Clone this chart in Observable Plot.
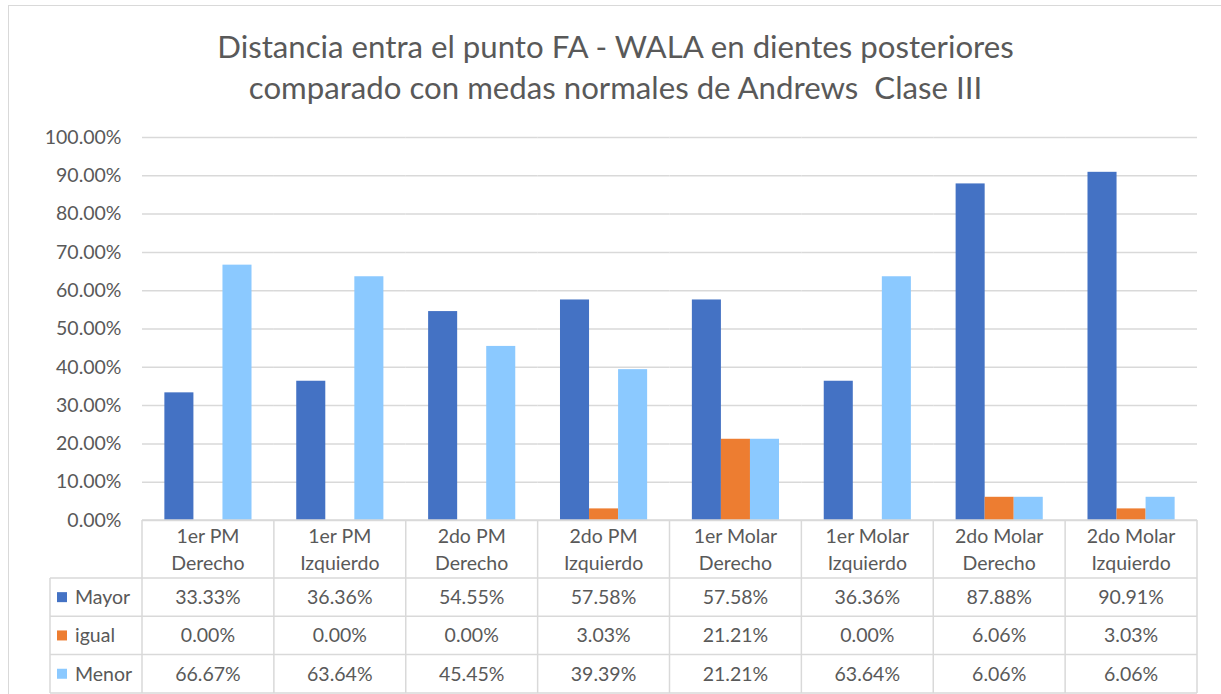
<!DOCTYPE html>
<html>
<head>
<meta charset="utf-8">
<script src="https://cdn.jsdelivr.net/npm/d3@7"></script>
<script src="https://cdn.jsdelivr.net/npm/@observablehq/plot@0.6"></script>
<style>
  html, body { margin: 0; padding: 0; background: #fff; }
  body { width: 1221px; height: 694px; overflow: hidden; position: relative; font-family: Lato, "Open Sans", sans-serif; }
  #frame { position: absolute; left: 8px; top: 5px; width: 1214px; height: 720px; border: 1.5px solid #d9d9d9; box-sizing: border-box; pointer-events: none; }
  #title { height: 125px; box-sizing: border-box; padding-top: 26px; padding-left: 10px; text-align: center; color: #595959; font-size: 31.2px; line-height: 41px; white-space: pre; }
  #chart svg { display: block; }
</style>
</head>
<body>
<div id="frame"></div>
<div id="title">Distancia entra el punto FA - WALA en dientes posteriores
comparado con medas normales de Andrews  Clase III</div>
<div id="chart"></div>
<script>
// ---- data ----
const categories = ["1er PM Derecho", "1er PM Izquierdo", "2do PM Derecho", "2do PM Izquierdo",
                    "1er Molar Derecho", "1er Molar Izquierdo", "2do Molar Derecho", "2do Molar Izquierdo"];
const catLine1 = ["1er PM", "1er PM", "2do PM", "2do PM", "1er Molar", "1er Molar", "2do Molar", "2do Molar"];
const catLine2 = ["Derecho", "Izquierdo", "Derecho", "Izquierdo", "Derecho", "Izquierdo", "Derecho", "Izquierdo"];
const series = ["Mayor", "igual", "Menor"];
const mayor = [0.3333, 0.3636, 0.5455, 0.5758, 0.5758, 0.3636, 0.8788, 0.9091];
const igual = [0.0000, 0.0000, 0.0000, 0.0303, 0.2121, 0.0000, 0.0606, 0.0303];
const menor = [0.6667, 0.6364, 0.4545, 0.3939, 0.2121, 0.6364, 0.0606, 0.0606];
const seriesColors = ["#4472C4", "#ED7D31", "#8BC9FF"];
const yTicks = [0, 0.1, 0.2, 0.3, 0.4, 0.5, 0.6, 0.7, 0.8, 0.9, 1.0];

const seriesValues = [mayor, igual, menor];
const rows = [];
categories.forEach((c, i) => series.forEach((s, j) => rows.push({cat: c, series: s, value: seriesValues[j][i]})));

const fmt = d3.format(".2%");
const textColor = "#595959";
const lineColor = "#d9d9d9";
const fontFam = "Lato, 'Open Sans', sans-serif";
const W = 1221, H = 569;
const mL = 142, mR = 24, mT = 12, mB = 174;

const plot = Plot.plot({
  width: W, height: H,
  marginLeft: mL, marginRight: mR, marginTop: mT, marginBottom: mB,
  style: {fontFamily: fontFam, fontSize: "19px", color: textColor, background: "transparent"},
  fx: {domain: categories, padding: 0, round: false, axis: null, label: null},
  x: {domain: series, paddingInner: 0, paddingOuter: 0.77, round: false, axis: null, label: null},
  y: {domain: [0, 1], label: null},
  color: {domain: series, range: seriesColors},
  marks: [
    Plot.gridY(yTicks, {stroke: lineColor, strokeOpacity: 1, strokeWidth: 1.5}),
    Plot.axisY(yTicks, {tickSize: 0, tickPadding: 21, tickFormat: fmt, label: null, fontSize: 19.5, fill: textColor}),
    Plot.barY(rows, {fx: "cat", x: "series", y: "value", fill: "series"})
  ]
});
document.getElementById("chart").appendChild(plot);

// ---- data table drawn with the plot's own fx / y scales ----
const fxS = plot.scale("fx");
const yS = plot.scale("y");
const step = (W - mL - mR) / categories.length;
const colLeft = c => (fxS && fxS.apply) ? fxS.apply(c) : mL + categories.indexOf(c) * step;
const colW = (fxS && fxS.bandwidth) ? fxS.bandwidth : step;
const y0 = (yS && yS.apply) ? yS.apply(0) : H - mB;
const tableLeft = 50;
const tableRight = colLeft(categories[categories.length - 1]) + colW;
const headerBottom = y0 + 58, rowH = 38.3;
const rowTops = [headerBottom, headerBottom + rowH, headerBottom + 2 * rowH];
const tableBottom = headerBottom + 3 * rowH;
const fs = 19.5;

const svg = d3.select(plot);
const g = svg.append("g").attr("font-family", fontFam).attr("fill", textColor);
const lines = g.append("g").attr("stroke", lineColor).attr("stroke-width", 1.5);
// horizontal lines
lines.append("line").attr("x1", colLeft(categories[0])).attr("x2", tableRight).attr("y1", y0).attr("y2", y0);
[headerBottom, ...rowTops.slice(1), tableBottom].forEach(yy =>
  lines.append("line").attr("x1", tableLeft).attr("x2", tableRight).attr("y1", yy).attr("y2", yy));
// vertical lines
lines.append("line").attr("x1", tableLeft).attr("x2", tableLeft).attr("y1", headerBottom).attr("y2", tableBottom);
categories.forEach(c => {
  const x = colLeft(c);
  lines.append("line").attr("x1", x).attr("x2", x).attr("y1", y0).attr("y2", tableBottom);
});
lines.append("line").attr("x1", tableRight).attr("x2", tableRight).attr("y1", y0).attr("y2", tableBottom);

// header text
categories.forEach((c, i) => {
  const cx = colLeft(c) + colW / 2;
  g.append("text").attr("x", cx).attr("y", y0 + 16).attr("dy", "0.35em").attr("text-anchor", "middle").attr("font-size", fs).text(catLine1[i]);
  g.append("text").attr("x", cx).attr("y", y0 + 43).attr("dy", "0.35em").attr("text-anchor", "middle").attr("font-size", fs).text(catLine2[i]);
});
// rows
series.forEach((s, j) => {
  const cy = rowTops[j] + rowH / 2;
  g.append("rect").attr("x", 57).attr("y", cy - 5).attr("width", 10).attr("height", 10).attr("fill", seriesColors[j]);
  g.append("text").attr("x", 75).attr("y", cy).attr("dy", "0.35em").attr("text-anchor", "start").attr("font-size", fs).text(s);
  categories.forEach((c, i) => {
    g.append("text").attr("x", colLeft(c) + colW / 2).attr("y", cy).attr("dy", "0.35em").attr("text-anchor", "middle").attr("font-size", fs).text(fmt(seriesValues[j][i]));
  });
});
</script>
</body>
</html>
